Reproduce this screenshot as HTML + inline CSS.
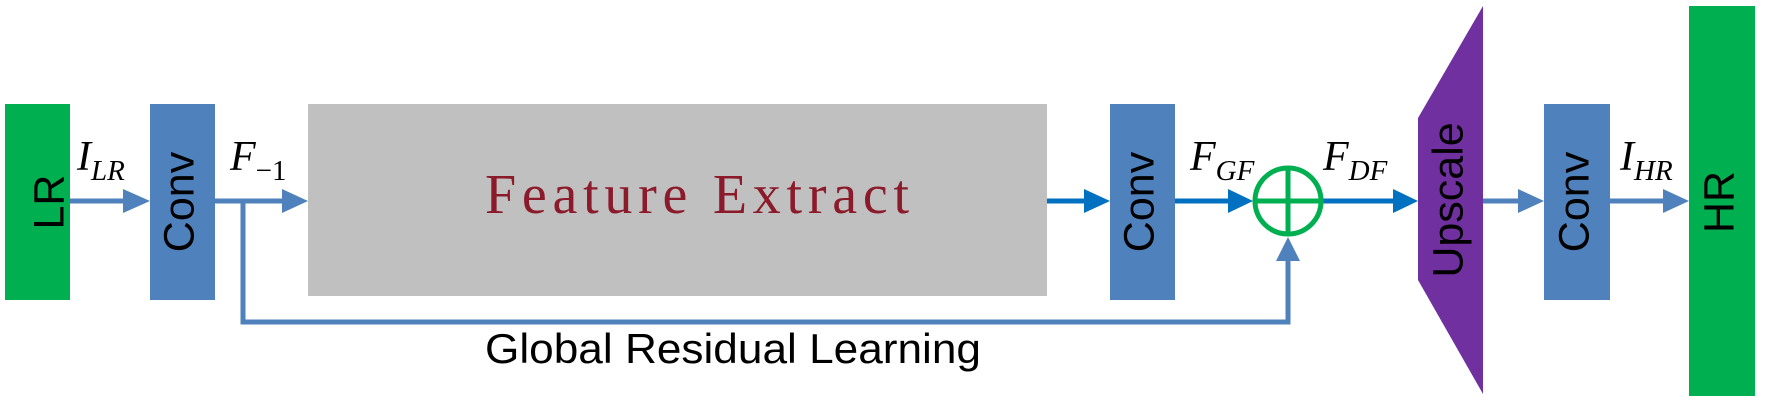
<!DOCTYPE html>
<html><head><meta charset="utf-8"><style>html,body{margin:0;padding:0;background:#fff;}svg{display:block}</style></head>
<body>
<svg width="1773" height="408" viewBox="0 0 1773 408" xmlns="http://www.w3.org/2000/svg">
<rect x="5" y="104" width="65" height="196" fill="#00b050"/>
<rect x="150" y="104" width="65" height="196" fill="#4f81bd"/>
<rect x="308" y="104" width="739" height="192" fill="#c0c0c0"/>
<rect x="1110" y="104" width="65" height="196" fill="#4f81bd"/>
<polygon points="1418,118 1483,6 1483,394 1418,280" fill="#7030a0"/>
<rect x="1544" y="104" width="66" height="196" fill="#4f81bd"/>
<rect x="1689" y="6" width="66" height="390" fill="#00b050"/>

<g font-family="Liberation Sans, Arial, sans-serif" font-size="43" fill="#000" text-anchor="middle">
<text transform="translate(52,202) rotate(-90)" dominant-baseline="middle">LR</text>
<text transform="translate(182,202) rotate(-90)" dominant-baseline="middle">Conv</text>
<text transform="translate(1142,202) rotate(-90)" dominant-baseline="middle">Conv</text>
<text transform="translate(1451,200) rotate(-90)" dominant-baseline="middle">Upscale</text>
<text transform="translate(1577,202) rotate(-90)" dominant-baseline="middle">Conv</text>
<text transform="translate(1722,202) rotate(-90)" dominant-baseline="middle">HR</text>
</g>
<text x="485" y="213" font-family="Liberation Serif, serif" font-size="56" fill="#8b1a2a" textLength="424" lengthAdjust="spacing">Feature Extract</text>

<g stroke-width="5" fill="none">
<line x1="70" y1="201" x2="126" y2="201" stroke="#4f81bd"/>
<line x1="215" y1="201" x2="285" y2="201" stroke="#4f81bd"/>
<polyline points="243,201 243,322 1288,322 1288,255" stroke="#4f81bd"/>
<line x1="1047" y1="201" x2="1088" y2="201" stroke="#0070c0"/>
<line x1="1175" y1="201" x2="1232" y2="201" stroke="#0070c0"/>
<line x1="1323" y1="201" x2="1396" y2="201" stroke="#0070c0"/>
<line x1="1483" y1="201" x2="1522" y2="201" stroke="#4f81bd"/>
<line x1="1610" y1="201" x2="1667" y2="201" stroke="#4f81bd"/>
</g>
<g>
<polygon points="123,189 150,201 123,213" fill="#4f81bd"/>
<polygon points="282,189 308,201 282,213" fill="#4f81bd"/>
<polygon points="1084,189 1110,201 1084,213" fill="#0070c0"/>
<polygon points="1228,189 1253,201 1228,213" fill="#0070c0"/>
<polygon points="1393,189 1418,201 1393,213" fill="#0070c0"/>
<polygon points="1518,189 1544,201 1518,213" fill="#4f81bd"/>
<polygon points="1663,189 1689,201 1663,213" fill="#4f81bd"/>
<polygon points="1276,261 1288,237 1300,261" fill="#4f81bd"/>
</g>
<circle cx="1288" cy="201" r="33" fill="none" stroke="#00b050" stroke-width="5"/>
<line x1="1255" y1="201" x2="1321" y2="201" stroke="#00b050" stroke-width="5"/>
<line x1="1288" y1="168" x2="1288" y2="234" stroke="#00b050" stroke-width="5"/>

<g font-family="Liberation Serif, serif" font-style="italic" fill="#000">
<text x="77" y="170" font-size="42">I<tspan font-size="29" dy="10">LR</tspan></text>
<text x="230" y="170" font-size="42">F<tspan font-size="29" dy="10" font-style="normal">−1</tspan></text>
<text x="1190" y="170" font-size="42">F<tspan font-size="29" dy="10">GF</tspan></text>
<text x="1323" y="170" font-size="42">F<tspan font-size="29" dy="10">DF</tspan></text>
<text x="1620" y="170" font-size="42">I<tspan font-size="29" dy="10">HR</tspan></text>
</g>
<text x="485" y="363" font-family="Liberation Sans, Arial, sans-serif" font-size="42" fill="#000" textLength="496" lengthAdjust="spacingAndGlyphs">Global Residual Learning</text>
</svg>
</body></html>
